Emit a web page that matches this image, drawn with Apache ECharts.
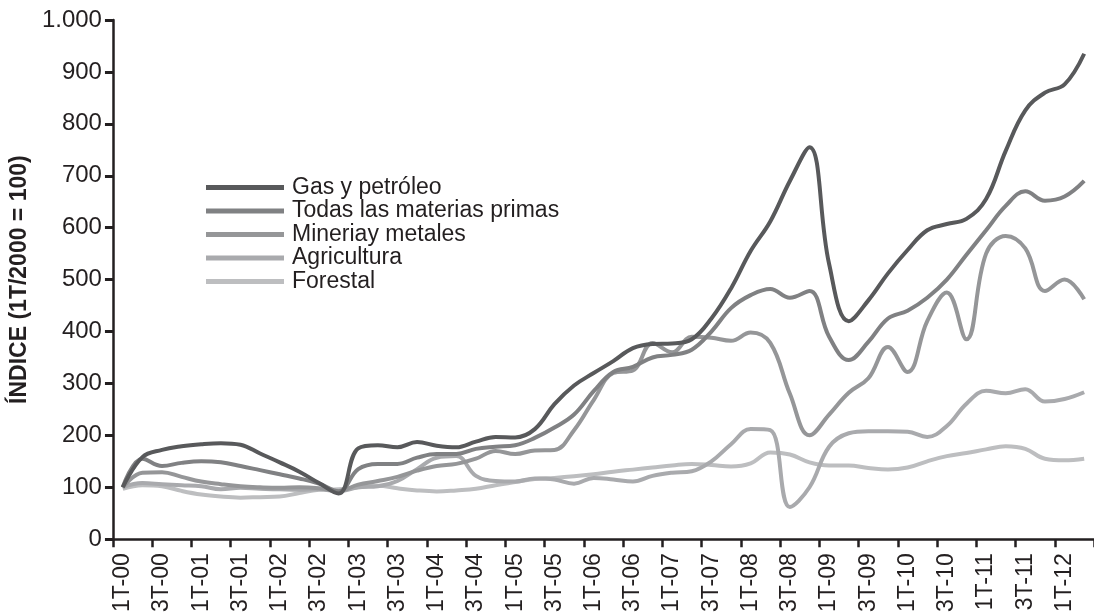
<!DOCTYPE html>
<html>
<head>
<meta charset="utf-8">
<script src="https://cdn.jsdelivr.net/npm/echarts@6/dist/echarts.min.js"></script>
<style>
  html, body { margin: 0; padding: 0; background: #ffffff; }
  #chart { width: 1094px; height: 615px; }
</style>
</head>
<body>
<div id="chart"></div>
<script>
// Quarters 1T-00 .. 2T-12
const years = ['00','01','02','03','04','05','06','07','08','09','10','11','12'];
const quarters = [];
years.forEach(function (y) {
  ['1T','2T','3T','4T'].forEach(function (q) {
    if (y === '12' && (q === '3T' || q === '4T')) return;
    quarters.push(q + '-' + y);
  });
});

const seriesNames = ['Gas y petróleo', 'Todas las materias primas', 'Mineriay metales', 'Agricultura', 'Forestal'];

const gas = [100,158,172,179,183,185,182,165,148,130,108,88,
  175,181,177,187,180,177,188,197,196,212,260,296,320,
  343,368,376,377,385,425,483,555,612,690,755,530,420,
  460,512,557,595,607,617,655,748,826,860,876,935];
const todas = [100,155,141,147,150,148,141,133,125,117,107,92,
  135,145,145,157,164,164,174,178,181,195,215,240,285,
  322,332,350,355,365,400,445,470,482,465,478,390,345,
  380,425,440,465,500,548,595,642,670,652,660,690];
const mineria = [100,128,129,120,111,106,102,100,99,100,98,93,
  105,112,120,132,141,145,155,170,164,171,172,210,268,
  320,325,378,360,390,388,382,398,378,280,200,240,282,
  310,370,322,420,475,385,550,584,560,478,500,462];
const agricultura = [100,108,106,104,102,96,99,97,96,95,96,92,
  100,102,112,135,157,160,122,112,111,117,115,107,118,
  115,111,122,128,131,150,183,212,210,62,100,178,204,
  208,208,207,197,218,261,286,281,289,265,270,283];
const forestal = [97,104,102,93,86,82,80,81,82,89,95,96,
  100,103,98,94,92,94,97,104,110,116,118,121,125,
  130,134,138,142,145,143,140,146,167,163,148,142,142,
  137,134,138,150,160,166,173,179,174,155,152,155];

const yTicks = [0,100,200,300,400,500,600,700,800,900,1000];
const yTickLabels = ['0','100','200','300','400','500','600','700','800','900','1.000'];

const colors = ['#58595b', '#808183', '#959698', '#a9aaad', '#bdbec0'];
const values = [gas, todas, mineria, agricultura, forestal];

const chart = echarts.init(document.getElementById('chart'), null, { renderer: 'canvas' });
const FONT = '"Liberation Sans", Arial, sans-serif';
const INK = '#231f20';

chart.setOption({
  backgroundColor: '#ffffff',
  animation: false,
  color: colors,
  textStyle: { fontFamily: FONT, color: INK },
  grid: { left: 102, top: 20, width: 995, height: 531, containLabel: false },
  legend: {
    orient: 'vertical',
    left: 201,
    top: 171,
    icon: 'rect',
    itemWidth: 78,
    itemHeight: 5,
    itemGap: 0.5,
    data: seriesNames,
    textStyle: { fontFamily: FONT, fontSize: 23, lineHeight: 22, color: INK, padding: [0, 0, 0, 3] }
  },
  xAxis: {
    type: 'category',
    data: quarters,
    boundaryGap: true,
    axisLine: { show: true, lineStyle: { color: INK, width: 2.5 } },
    axisTick: { show: true, interval: 1, length: 8, lineStyle: { color: INK, width: 2.5 } },
    axisLabel: { interval: 1, rotate: 90, margin: 14, fontSize: 23, color: INK, fontFamily: FONT },
    splitLine: { show: false }
  },
  yAxis: {
    type: 'value',
    min: 0,
    max: 1000,
    interval: 100,
    name: 'ÍNDICE (1T/2000 = 100)',
    nameLocation: 'middle',
    nameGap: 71,
    nameTextStyle: { fontFamily: FONT, fontSize: 23, fontWeight: 'bold', color: INK },
    axisLine: { show: true, lineStyle: { color: INK, width: 2.5 } },
    axisTick: { show: true, length: 8, lineStyle: { color: INK, width: 3 } },
    axisLabel: {
      margin: 11, fontSize: 24, color: INK, fontFamily: FONT,
      formatter: function (v) { const i = yTicks.indexOf(v); return i >= 0 ? yTickLabels[i] : ''; }
    },
    splitLine: { show: false }
  },
  series: seriesNames.map(function (name, i) {
    return {
      name: name,
      type: 'line',
      data: values[i],
      smooth: 0.4,
      showSymbol: false,
      symbol: 'none',
      z: 10 - i,
      lineStyle: { width: 4, color: colors[i] }
    };
  })
});
</script>
</body>
</html>
